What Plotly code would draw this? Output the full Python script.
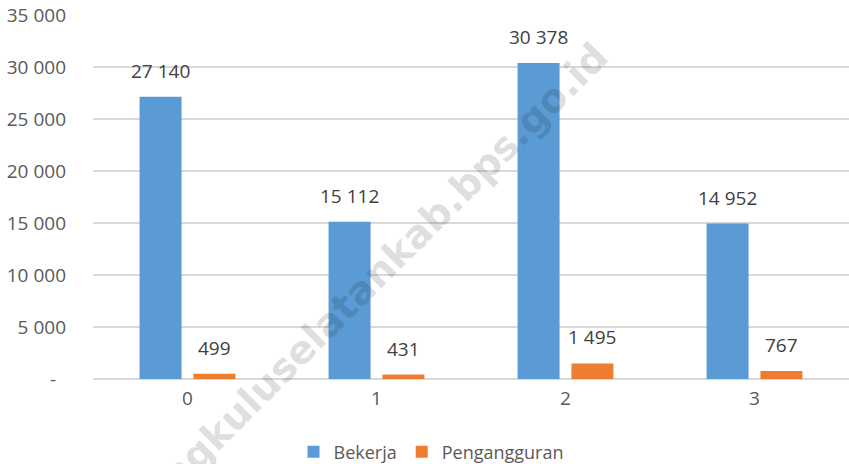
import plotly.graph_objects as go

categories = [0, 1, 2, 3]
category_labels = ["0", "1", "2", "3"]
bekerja = [27140, 15112, 30378, 14952]
pengangguran = [499, 431, 1495, 767]
ytick_vals = [0, 5000, 10000, 15000, 20000, 25000, 30000, 35000]
ytick_text = ["-\u00a0\u00a0", "5 000", "10 000", "15 000", "20 000", "25 000", "30 000", "35 000"]

def fmt(v):
    return f"{v:,}".replace(",", " ")

FONT = "Open Sans"
FS = 19
BLUE = "#5B9BD5"
ORANGE = "#ED7D31"

fig = go.Figure()
fig.add_trace(go.Bar(x=categories, y=bekerja, name="Bekerja", marker_color=BLUE,
                     marker_line_width=0))
fig.add_trace(go.Bar(x=categories, y=pengangguran, name="Pengangguran", marker_color=ORANGE,
                     marker_line_width=0))

bargap = 0.43
bargroupgap = 0.22
half = (1 - bargap) / 4.0

annotations = []
for c, v in zip(categories, bekerja):
    annotations.append(dict(x=c - half, y=v, xref="x", yref="y", text=fmt(v), showarrow=False,
                            yanchor="bottom", yshift=11, font=dict(family=FONT, size=FS, color="#404040")))
for c, v in zip(categories, pengangguran):
    annotations.append(dict(x=c + half, y=v, xref="x", yref="y", text=fmt(v), showarrow=False,
                            yanchor="bottom", yshift=11, font=dict(family=FONT, size=FS, color="#404040")))

# watermark
L, R, T, B = 93, 0, 15, 85
W, H = 849, 464
pw, ph = W - L - R, H - T - B
wx, wy = 384, 266
annotations.append(dict(x=(wx - L) / pw, y=(H - B - wy) / ph, xref="paper", yref="paper",
                        text="<b>ngkuluselatankab.bps.go.id</b>", showarrow=False, textangle=-45,
                        xanchor="center", yanchor="middle",
                        font=dict(family="DejaVu Sans", size=39, color="rgba(0,0,0,0.14)")))

fig.update_layout(
    width=W, height=H,
    margin=dict(l=L, r=R, t=T, b=B, autoexpand=False),
    paper_bgcolor="white", plot_bgcolor="white",
    barmode="group", bargap=bargap, bargroupgap=bargroupgap,
    font=dict(family=FONT, size=FS, color="#595959"),
    xaxis=dict(tickvals=categories, ticktext=category_labels, range=[-0.5, 3.5],
               showgrid=False, zeroline=False, showline=False, ticks="", automargin=False,
               ticklabelstandoff=6,
               tickfont=dict(family=FONT, size=FS, color="#595959")),
    yaxis=dict(range=[0, 35000], tickvals=ytick_vals, ticktext=ytick_text,
               showgrid=True, gridcolor="#D9D9D9", gridwidth=1.5, zeroline=True,
               zerolinecolor="#D9D9D9", zerolinewidth=1.5, showline=False, ticks="",
               ticklabelstandoff=26, automargin=False,
               tickfont=dict(family=FONT, size=FS, color="#595959")),
    legend=dict(orientation="h", x=(431 - L) / pw, xanchor="center", y=(H - B - 452) / ph,
                yanchor="middle", font=dict(family=FONT, size=18, color="#595959"),
                itemwidth=30, bgcolor="rgba(0,0,0,0)"),
    annotations=annotations,
)

fig.write_html("out.html", config={"displayModeBar": False},
               post_script="document.body.style.margin='0';")
